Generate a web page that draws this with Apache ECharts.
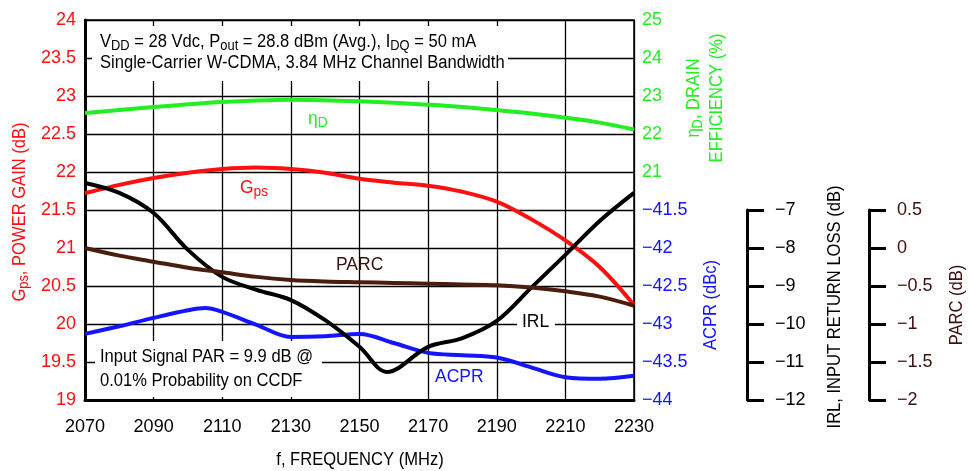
<!DOCTYPE html>
<html><head><meta charset="utf-8">
<script src="https://cdn.jsdelivr.net/npm/echarts@6/dist/echarts.min.js"></script>
<style>html,body{margin:0;padding:0;background:#fff}#c{width:970px;height:471px}</style>
</head><body><div id="c"></div>
<script>
// ---- data ----
const freqTicks = [2070, 2090, 2110, 2130, 2150, 2170, 2190, 2210, 2230];
const freq = [2070, 2080, 2090, 2100, 2110, 2120, 2130, 2140, 2150, 2160, 2170, 2180, 2190, 2200, 2210, 2220, 2230];
const gps = [21.72, 21.83, 21.92, 21.99, 22.04, 22.06, 22.04, 21.99, 21.91, 21.86, 21.82, 21.74, 21.61, 21.38, 21.10, 20.75, 20.25];
const eff = [22.55, 22.63, 22.71, 22.78, 22.84, 22.88, 22.90, 22.89, 22.86, 22.82, 22.77, 22.71, 22.63, 22.54, 22.43, 22.30, 22.12];
const acprFreq = [2070, 2080, 2090, 2100, 2105, 2110, 2120, 2130, 2140, 2150, 2160, 2170, 2180, 2190, 2200, 2210, 2220, 2230];
const acpr = [-43.13, -43.03, -42.92, -42.82, -42.79, -42.84, -43.01, -43.17, -43.16, -43.13, -43.25, -43.38, -43.41, -43.44, -43.57, -43.70, -43.72, -43.68];
const parc = [0.0, -0.10, -0.18, -0.26, -0.32, -0.38, -0.42, -0.44, -0.45, -0.46, -0.47, -0.48, -0.49, -0.52, -0.57, -0.64, -0.76];
const irlFreq = [2070, 2080, 2090, 2100, 2110, 2120, 2130, 2140, 2150, 2158, 2170, 2180, 2190, 2200, 2210, 2220, 2230];
const irl = [-6.29, -6.55, -7.08, -8.05, -8.76, -9.10, -9.37, -9.90, -10.60, -11.26, -10.60, -10.37, -9.92, -9.05, -8.18, -7.29, -6.55];

const FONT = "'Liberation Sans',Arial,sans-serif";
const RED = '#ff1010', GREEN = '#22ee22', BLUE = '#1414ff', BROWN = '#4a1e0e', BROWN_T = '#3c1010';
const NX = 0.92; // horizontal squeeze for narrow text
const pair = (xs, ys) => xs.map((x, i) => [x, ys[i]]);
const minus = v => String(v).replace('-', '\u2212');

const chart = echarts.init(document.getElementById('c'));
const lineSeries = (name, xs, ys, yi, color) => ({
  name, type: 'line', xAxisIndex: 0, yAxisIndex: yi, data: pair(xs, ys),
  smooth: 0.35, symbol: 'none', lineStyle: { color, width: 4 }, z: 5
});
const sub = (size, pad) => ({ fontSize: size, fontFamily: FONT, padding: [pad, 0, 0, 0] });
const txt = (x, y, text, color, size, align) => ({
  type: 'text', x, y, z: 10, scaleX: NX,
  style: { text, fill: color, fontSize: size, fontFamily: FONT, textAlign: align || 'left', textVerticalAlign: 'middle' }
});
const vtxt = (x, y, text, color, rich) => ({
  type: 'text', x, y, z: 10, rotation: Math.PI / 2, scaleX: NX,
  style: { text, fill: color, fontSize: 18, fontFamily: FONT, textAlign: 'center', textVerticalAlign: 'middle', rich }
});

chart.setOption({
  animation: false,
  textStyle: { fontFamily: FONT },
  grid: [
    { left: 85, right: 336, top: 20, bottom: 71, show: true, borderColor: '#000', borderWidth: 1.5 },
    { left: 746, width: 1, top: 210, height: 190 },
    { left: 868, width: 1, top: 210, height: 190 }
  ],
  xAxis: [
    { type: 'value', gridIndex: 0, min: 2070, max: 2230, interval: 20,
      axisLine: { onZero: false, lineStyle: { color: '#000', width: 3 } }, axisTick: { show: false },
      axisLabel: { color: '#000', fontSize: 18, margin: 18, fontFamily: FONT, formatter: v => String(v) },
      splitLine: { lineStyle: { color: '#000', width: 1.3 } } },
    { type: 'value', gridIndex: 1, show: false },
    { type: 'value', gridIndex: 2, show: false }
  ],
  yAxis: [
    { type: 'value', gridIndex: 0, min: 19, max: 24, interval: 0.5, position: 'left',
      axisLine: { show: true, onZero: false, lineStyle: { color: '#000', width: 3 } }, axisTick: { show: false },
      axisLabel: { color: RED, fontSize: 18, margin: 9, fontFamily: FONT },
      splitLine: { lineStyle: { color: '#000', width: 1.3 } } },
    { type: 'value', gridIndex: 0, min: 15, max: 25, interval: 1, position: 'right',
      axisLine: { show: false }, axisTick: { show: false }, splitLine: { show: false },
      axisLabel: { color: GREEN, fontSize: 18, margin: 8, fontFamily: FONT, formatter: v => v >= 21 ? String(v) : '' } },
    { type: 'value', gridIndex: 0, min: -44, max: -39, interval: 0.5, position: 'right',
      axisLine: { show: false }, axisTick: { show: false }, splitLine: { show: false },
      axisLabel: { color: BLUE, fontSize: 18, margin: 8, fontFamily: FONT, formatter: v => v <= -41.5 ? minus(v) : '' } },
    { type: 'value', gridIndex: 0, min: -12, max: -2, show: false },
    { type: 'value', gridIndex: 0, min: -2, max: 3, show: false },
    { type: 'value', gridIndex: 1, min: -12, max: -7, interval: 1, position: 'right',
      axisLine: { show: true, onZero: false, lineStyle: { color: '#000', width: 3 } },
      axisTick: { show: true, length: 17, lineStyle: { color: '#000', width: 3 } },
      splitLine: { show: false },
      axisLabel: { color: '#000', fontSize: 18, margin: 28, fontFamily: FONT, formatter: minus } },
    { type: 'value', gridIndex: 2, min: -2, max: 0.5, interval: 0.5, position: 'right',
      axisLine: { show: true, onZero: false, lineStyle: { color: '#000', width: 3 } },
      axisTick: { show: true, length: 17, lineStyle: { color: '#000', width: 3 } },
      splitLine: { show: false },
      axisLabel: { color: BROWN_T, fontSize: 18, margin: 28, fontFamily: FONT, formatter: minus } }
  ],
  series: [
    lineSeries('Gps', freq, gps, 0, RED),
    lineSeries('Eff', freq, eff, 1, GREEN),
    lineSeries('ACPR', acprFreq, acpr, 2, BLUE),
    lineSeries('IRL', irlFreq, irl, 3, '#000'),
    lineSeries('PARC', freq, parc, 4, BROWN)
  ],
  graphic: [
    { type: 'rect', shape: { x: 92, y: 26, width: 416, height: 55 }, style: { fill: '#fff' }, z: 3 },
    { type: 'rect', shape: { x: 95, y: 341, width: 227, height: 56 }, style: { fill: '#fff' }, z: 3 },
    { type: 'rect', shape: { x: 517, y: 310, width: 38, height: 26 }, style: { fill: '#fff' }, z: 3 },
    { type: 'rect', shape: { x: 431, y: 364, width: 56, height: 26 }, style: { fill: '#fff' }, z: 3 },
    { type: 'text', x: 100, y: 42, z: 10, scaleX: NX, style: {
      text: '{n|V}{s|DD}{n| = 28 Vdc, P}{s|out}{n| = 28.8 dBm (Avg.), I}{s|DQ}{n| = 50 mA}',
      textVerticalAlign: 'middle', fill: '#000',
      rich: { n: { fontSize: 18, fontFamily: FONT }, s: sub(14, 8) } } },
    txt(100, 63, 'Single-Carrier W-CDMA, 3.84 MHz Channel Bandwidth', '#000', 18),
    txt(100, 357, 'Input Signal PAR = 9.9 dB @', '#000', 18),
    txt(100, 381, '0.01% Probability on CCDF', '#000', 18),
    { type: 'text', x: 308, y: 119, z: 10, scaleX: NX, style: { text: '{n|\u03b7}{s|D}', textVerticalAlign: 'middle', fill: GREEN,
      rich: { n: { fontSize: 19, fontFamily: FONT }, s: sub(15, 7) } } },
    { type: 'text', x: 240, y: 188, z: 10, scaleX: NX, style: { text: '{n|G}{s|ps}', textVerticalAlign: 'middle', fill: RED,
      rich: { n: { fontSize: 19, fontFamily: FONT }, s: sub(15, 8) } } },
    txt(336, 265, 'PARC', BROWN_T, 19),
    txt(522, 322, 'IRL', '#000', 19),
    txt(435, 377, 'ACPR', BLUE, 19),
    txt(360, 460, 'f, FREQUENCY (MHz)', '#000', 18, 'center'),
    vtxt(20, 212, '{n|G}{s|ps}{n|, POWER GAIN (dB)}', RED, { n: { fontSize: 18, fontFamily: FONT }, s: sub(14, 8) }),
    vtxt(694, 98, '{n|\u03b7}{s|D}{n|, DRAIN}', GREEN, { n: { fontSize: 18, fontFamily: FONT }, s: sub(14, 8) }),
    vtxt(717, 98, 'EFFICIENCY (%)', GREEN),
    vtxt(711, 305, 'ACPR (dBc)', BLUE),
    vtxt(835, 307, 'IRL, INPUT RETURN LOSS (dB)', '#000'),
    vtxt(957, 305, 'PARC (dB)', BROWN_T)
  ]
});
</script></body></html>
